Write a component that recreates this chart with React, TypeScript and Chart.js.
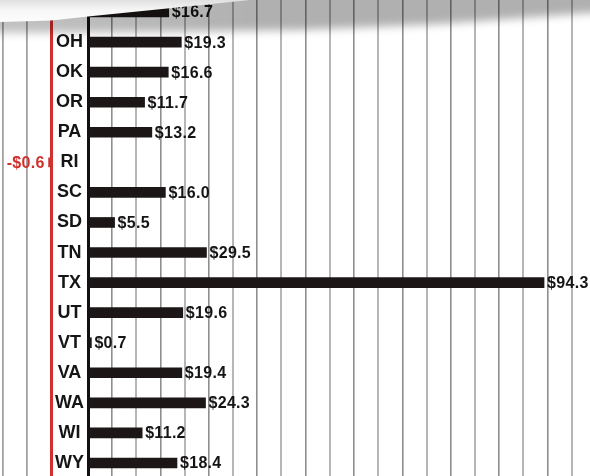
import React, { useEffect, useRef } from "react";
import { Chart, registerables } from "chart.js";

Chart.register(...registerables);

// ---- data ----
const states = ["ND", "OH", "OK", "OR", "PA", "RI", "SC", "SD", "TN", "TX", "UT", "VT", "VA", "WA", "WI", "WY"];
const barValues = [16.7, 19.3, 16.6, 11.7, 13.2, -0.6, 16.0, 5.5, 24.5, 94.3, 19.6, 0.7, 19.4, 24.3, 11.2, 18.4];
const valueLabels = ["$16.7", "$19.3", "$16.6", "$11.7", "$13.2", "-$0.6", "$16.0", "$5.5", "$29.5", "$94.3", "$19.6", "$0.7", "$19.4", "$24.3", "$11.2", "$18.4"];
const gridStep = 5;
const positiveRange = [0, 103.8];
const negativeRange = [-10.65, 0.93];

const FONT = '"Liberation Sans", Arial, Helvetica, sans-serif';
const RED = "#d2302c";
const BAR = "#1c1716";

function makeLabelPlugin(side: "pos" | "neg") {
  return {
    id: "valueLabels_" + side,
    afterDatasetsDraw(chart: any) {
      const ctx = chart.ctx;
      const meta = chart.getDatasetMeta(0);
      const data = chart.data.datasets[0].data;
      ctx.save();
      ctx.font = "bold 16px " + FONT;
      try { (ctx as any).letterSpacing = "0.3px"; } catch (e) {}
      ctx.textBaseline = "middle";
      meta.data.forEach((bar: any, i: number) => {
        const v = data[i];
        if (v === null || v === undefined) return;
        if (side === "neg") {
          ctx.fillStyle = RED;
          ctx.textAlign = "right";
          ctx.fillText(valueLabels[i], bar.x - 4, bar.y + 1);
        } else {
          ctx.fillStyle = "#161414";
          ctx.textAlign = "left";
          ctx.fillText(valueLabels[i], bar.x + 3, bar.y + 1);
        }
      });
      ctx.restore();
    },
  };
}

// grid lines only on whole multiples of the step
function stepTicks(s: any) {
  const out: any[] = [];
  const start = Math.ceil(s.min / gridStep) * gridStep;
  for (let v = start; v <= s.max + 1e-9; v += gridStep) out.push({ value: v === 0 ? 0 : v });
  s.ticks = out;
}

function noPadX(s: any) {
  s.height = 0;
  s.paddingLeft = 0;
  s.paddingRight = 0;
  s.paddingTop = 0;
  s.paddingBottom = 0;
}

function noPadY(s: any) {
  s.width = 37;
  s.paddingTop = 0;
  s.paddingBottom = 0;
}

export default function App() {
  const leftRef = useRef<HTMLCanvasElement>(null);
  const rightRef = useRef<HTMLCanvasElement>(null);
  const overlayRef = useRef<HTMLCanvasElement>(null);

  useEffect(() => {
    const right = new Chart(rightRef.current!, {
      type: "bar",
      data: {
        labels: states,
        datasets: [
          {
            data: barValues.map((v) => (v >= 0 ? v : null)),
            backgroundColor: BAR,
            barThickness: 10,
          },
        ],
      },
      options: {
        indexAxis: "y",
        responsive: false,
        animation: false,
        devicePixelRatio: 1,
        layout: { padding: 0 },
        plugins: { legend: { display: false }, tooltip: { enabled: false } },
        scales: {
          x: {
            type: "linear",
            min: positiveRange[0],
            max: positiveRange[1],
            afterBuildTicks: stepTicks,
            afterFit: noPadX,
            ticks: { display: false, stepSize: gridStep },
            border: { display: false },
            grid: {
              drawTicks: false,
              color: (c: any) => {
                const v = c.tick ? c.tick.value : 1;
                if (v === 0) return "#111111";
                return Math.round(v / gridStep) % 2 === 1 ? "#8e8e8e" : "#b6b6b6";
              },
              lineWidth: (c: any) => {
                const v = c.tick ? c.tick.value : 1;
                if (v === 0) return 3;
                return Math.round(v / gridStep) % 2 === 1 ? 1.6 : 2;
              },
            },
          },
          y: {
            type: "category",
            afterFit: noPadY,
            grid: { display: false, drawTicks: false },
            border: { display: false },
            ticks: {
              autoSkip: false,
              crossAlign: "center",
              padding: 4,
              color: "#151515",
              font: { family: FONT, size: 18, weight: "bold" },
            },
          },
        },
      },
      plugins: [makeLabelPlugin("pos")],
    } as any);

    const left = new Chart(leftRef.current!, {
      type: "bar",
      data: {
        labels: states,
        datasets: [
          {
            data: barValues.map((v) => (v < 0 ? v : null)),
            backgroundColor: RED,
            barThickness: 9,
          },
        ],
      },
      options: {
        indexAxis: "y",
        responsive: false,
        animation: false,
        devicePixelRatio: 1,
        layout: { padding: 0 },
        plugins: { legend: { display: false }, tooltip: { enabled: false } },
        scales: {
          x: {
            type: "linear",
            min: negativeRange[0],
            max: negativeRange[1],
            afterBuildTicks: stepTicks,
            afterFit: noPadX,
            ticks: { display: false, stepSize: gridStep },
            border: { display: false },
            grid: {
              drawTicks: false,
              color: (c: any) => {
                const v = c.tick ? c.tick.value : 1;
                if (v === 0) return RED;
                if (v > 0) return "rgba(0,0,0,0)";
                return "#a2a2a2";
              },
              lineWidth: (c: any) => (c.tick && c.tick.value === 0 ? 3 : 1.8),
            },
          },
          y: { type: "category", display: false },
        },
      },
      plugins: [makeLabelPlugin("neg")],
    } as any);

    // page-curl overlay (decoration)
    const oc = overlayRef.current!;
    const o = oc.getContext("2d")!;
    o.clearRect(0, 0, oc.width, oc.height);
    o.save();
    o.filter = "blur(4px)";
    const sg = o.createLinearGradient(0, 0, 590, 0);
    sg.addColorStop(0, "rgba(0,0,0,0.24)");
    sg.addColorStop(0.45, "rgba(0,0,0,0.31)");
    sg.addColorStop(1, "rgba(0,0,0,0.31)");
    o.fillStyle = sg;
    o.beginPath();
    o.moveTo(-20, -20);
    o.lineTo(620, -20);
    o.lineTo(620, 12);
    o.lineTo(590, 13);
    o.lineTo(440, 24);
    o.lineTo(300, 30);
    o.lineTo(150, 32);
    o.lineTo(-20, 33);
    o.closePath();
    o.fill();
    o.restore();
    o.save();
    const fg = o.createLinearGradient(0, 0, 0, 22);
    fg.addColorStop(0, "#e0e0e0");
    fg.addColorStop(0.45, "#f6f6f6");
    fg.addColorStop(1, "#fdfdfd");
    o.fillStyle = fg;
    o.beginPath();
    o.moveTo(0, 0);
    o.lineTo(250, 0);
    o.lineTo(172, 8);
    o.lineTo(88, 16.5);
    o.lineTo(51, 20.5);
    o.lineTo(0, 22);
    o.closePath();
    o.fill();
    o.restore();

    return () => {
      right.destroy();
      left.destroy();
    };
  }, []);

  return (
    <div
      style={{
        position: "fixed",
        left: 0,
        top: 0,
        width: 590,
        height: 476,
        overflow: "hidden",
        background: "#ffffff",
      }}
    >
      <canvas
        ref={leftRef}
        width={56}
        height={481}
        style={{ position: "absolute", left: 0, top: -3, width: 56, height: 481 }}
      />
      <canvas
        ref={rightRef}
        width={539}
        height={481}
        style={{ position: "absolute", left: 51, top: -3, width: 539, height: 481 }}
      />
      <canvas
        ref={overlayRef}
        width={590}
        height={476}
        style={{ position: "absolute", left: 0, top: 0, width: 590, height: 476, pointerEvents: "none" }}
      />
    </div>
  );
}
